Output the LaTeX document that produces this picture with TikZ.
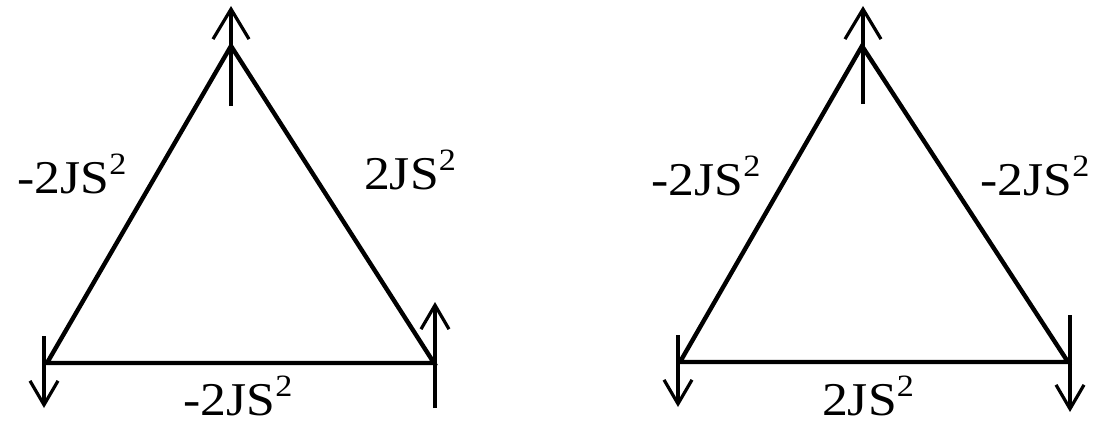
\documentclass[tikz,border=0pt]{standalone}
\usepackage{fontspec}
\setmainfont{Liberation Serif}
\usepackage{tikz}
\usetikzlibrary{arrows.meta}
\tikzset{
  % --- triangle bonds and spins ---
  bond/.style={line width=4.4pt, line join=miter},
  spin/.style={line width=3.2pt, -{Straight Barb[length=30pt, width=36pt, line width=3.2pt]}},
  smallspin/.style={spin, -{Straight Barb[length=24pt, width=28pt, line width=3.2pt]}},
  % --- exchange energies ---
  energy/.style={font=\fontsize{47}{50}\selectfont, inner sep=0pt, xscale=1.1},
}
\newcommand{\jss}[1]{#1JS\raisebox{0.4em}{\fontsize{31}{34}\selectfont 2}}

\begin{document}
\begin{tikzpicture}[x=1pt, y=-1pt]
  \useasboundingbox (0,0) rectangle (1107,428);
  % left triangle
  \coordinate (la) at (231,46);
  \coordinate (lb) at (47,363);
  \coordinate (lc) at (434,363);
  \draw[bond] (la) -- (lb) -- (lc) -- cycle;
  \coordinate (las) at (231,106); \coordinate (lae) at (231,6);
  \coordinate (lbs) at (44,336);  \coordinate (lbe) at (44,408);
  \coordinate (lcs) at (435,408); \coordinate (lce) at (435,302);
  \draw[spin] (las) -- (lae);
  \draw[smallspin] (lbs) -- (lbe);
  \draw[smallspin] (lcs) -- (lce);
  \node[energy] (lab) at (72,174)  {\jss{-2}};
  \node[energy] (lac) at (410,170) {\jss{2}};
  \node[energy] (lbc) at (238,396) {\jss{-2}};
  % right triangle
  \coordinate (ra) at (862,46);
  \coordinate (rb) at (680,362);
  \coordinate (rc) at (1068,362);
  \draw[bond] (ra) -- (rb) -- (rc) -- cycle;
  \coordinate (ras) at (863,104);  \coordinate (rae) at (863,6);
  \coordinate (rbs) at (678,335);  \coordinate (rbe) at (678,407);
  \coordinate (rcs) at (1070,315); \coordinate (rce) at (1070,412);
  \draw[spin] (ras) -- (rae);
  \draw[smallspin] (rbs) -- (rbe);
  \draw[smallspin] (rcs) -- (rce);
  \node[energy] (rab) at (706,176)  {\jss{-2}};
  \node[energy] (rac) at (1035,176) {\jss{-2}};
  \node[energy] (rbc) at (868,396)  {\jss{2}};
\end{tikzpicture}
\end{document}
